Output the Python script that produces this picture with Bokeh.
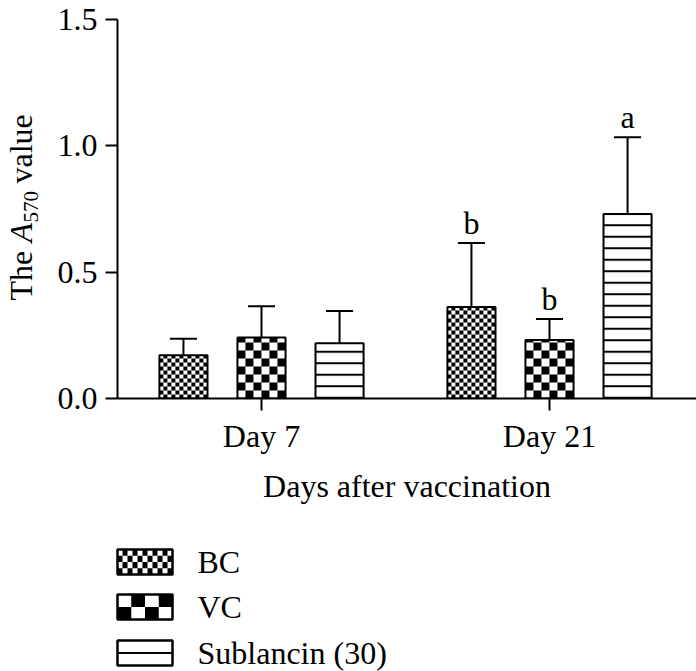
import numpy as np
from bokeh.plotting import figure
from bokeh.layouts import column, row
from bokeh.models import ColumnDataSource, Range1d, FixedTicker, PrintfTickFormatter
from bokeh.core.properties import value
from bokeh.embed import file_html
from bokeh.resources import INLINE

# ---------------- data ----------------
days = ["Day 7", "Day 21"]
groups = ["BC", "VC", "Sublancin (30)"]
bc_mean = [0.171, 0.362]
bc_sd = [0.065, 0.253]
vc_mean = [0.241, 0.232]
vc_sd = [0.124, 0.083]
sub_mean = [0.219, 0.730]
sub_sd = [0.127, 0.304]
bc_sig = ["", "b"]
vc_sig = ["", "b"]
sub_sig = ["", "a"]
y_ticks = [0.0, 0.5, 1.0, 1.5]

# ---------------- style ----------------
FONT = "Liberation Serif"
FS = "32px"
day_pos = [0, 1]
offsets = [-0.271, 0.0, 0.271]
bar_w = 0.167
cap_half = 0.047
X0, X1 = -0.5, 1.5104
Y0, Y1 = 0.0, 1.5
TOP_H = 520
FRAME_TOP = 19
FRAME_W, FRAME_H = 579, 379
BOTTOM_B = TOP_H - FRAME_TOP - FRAME_H
PX_X = FRAME_W / (X1 - X0)
PX_Y = FRAME_H / (Y1 - Y0)


def checker(left, right, bottom, top, cw, ch):
    """black cells of a checkerboard filling [left,right]x[bottom,top]"""
    L, R, B, T = [], [], [], []
    ncol = int(np.ceil((right - left) / cw - 1e-9))
    nrow = int(np.ceil((top - bottom) / ch - 1e-9))
    for r in range(nrow):
        for c in range(ncol):
            if (r + c) % 2 == 1:
                L.append(left + c * cw)
                R.append(min(left + (c + 1) * cw, right))
                B.append(bottom + r * ch)
                T.append(min(bottom + (r + 1) * ch, top))
    return dict(left=L, right=R, bottom=B, top=T)


# ---------------- main plot ----------------
p = figure(width=651, height=TOP_H, output_backend="svg", toolbar_location=None,
           x_range=Range1d(X0, X1), y_range=Range1d(Y0, Y1),
           min_border_left=72, min_border_right=0, min_border_top=FRAME_TOP,
           min_border_bottom=BOTTOM_B)
p.outline_line_color = None
p.xgrid.visible = False
p.ygrid.visible = False

cells_px = [4, 8, None]
series = [(bc_mean, bc_sd, bc_sig), (vc_mean, vc_sd, vc_sig), (sub_mean, sub_sd, sub_sig)]

for i, (m, sd, sig) in enumerate(series):
    xs = [d + offsets[i] for d in day_pos]
    upper = [mm + s for mm, s in zip(m, sd)]
    src = ColumnDataSource(dict(x=xs, top=m, upper=upper, sig=sig,
                                x0=[x - cap_half for x in xs], x1=[x + cap_half for x in xs]))
    p.segment(x0="x", y0="top", x1="x", y1="upper", source=src, line_color="black", line_width=2)
    p.segment(x0="x0", y0="upper", x1="x1", y1="upper", source=src, line_color="black", line_width=2)
    if cells_px[i] is None:
        p.vbar(x="x", top="top", bottom=0, width=bar_w, source=src,
               fill_color="white", line_color="black", line_width=2,
               hatch_pattern="horizontal_line", hatch_scale=11.5, hatch_weight=2,
               hatch_color="black")
    else:
        cw = cells_px[i] / PX_X
        ch = cells_px[i] / PX_Y
        for x, t in zip(xs, m):
            cs = checker(x - bar_w / 2, x + bar_w / 2, 0, t, cw, ch)
            p.quad(source=ColumnDataSource(cs), left="left", right="right",
                   bottom="bottom", top="top", fill_color="black", line_color=None)
        p.vbar(x="x", top="top", bottom=0, width=bar_w, source=src,
               fill_color=None, line_color="black", line_width=2)
    p.text(x="x", y="upper", text="sig", source=src, text_font=value(FONT),
           text_font_size=FS, text_align="center", text_baseline="alphabetic",
           y_offset=-20, text_color="black")

for ax in (p.xaxis[0], p.yaxis[0]):
    ax.axis_line_width = 2
    ax.axis_line_color = "black"
    ax.major_tick_line_width = 2
    ax.major_tick_line_color = "black"
    ax.major_tick_out = 12
    ax.major_tick_in = 0
    ax.minor_tick_line_color = None
    ax.major_label_text_font = FONT
    ax.major_label_text_font_size = FS
    ax.major_label_text_color = "black"
    ax.axis_label_text_font = FONT
    ax.axis_label_text_font_size = FS
    ax.axis_label_text_font_style = "normal"
    ax.axis_label_text_color = "black"

p.xaxis.ticker = FixedTicker(ticks=day_pos)
p.xaxis.major_label_overrides = {d: lab for d, lab in zip(day_pos, days)}
p.xaxis.major_label_standoff = 7
p.xaxis.axis_label = "Days after vaccination"
p.xaxis.axis_label_standoff = 11

p.yaxis.ticker = FixedTicker(ticks=y_ticks)
p.yaxis.formatter = PrintfTickFormatter(format="%.1f")
p.yaxis.major_label_standoff = 8

# ---------------- y-axis title (separate strip, frame aligned with the plot) ----------------
yl = figure(width=45, height=TOP_H, output_backend="svg", toolbar_location=None,
            x_range=Range1d(0, 45), y_range=Range1d(FRAME_TOP + FRAME_H, FRAME_TOP),
            min_border_left=0, min_border_right=0, min_border_top=FRAME_TOP,
            min_border_bottom=BOTTOM_B, x_axis_location=None, y_axis_location=None)
yl.outline_line_color = None
yl.xgrid.visible = False
yl.ygrid.visible = False
parts = ["The", "A", "570", "value"]
part_style = ["normal", "italic", "normal", "normal"]
part_size = [32, 32, 21, 32]
part_dx = [0, 0, 6, 0]
part_w = [50 + 8, 20, 31 + 8, 69]
total = sum(part_w)
start = 207 + total / 2
ys = list(start - np.cumsum([0] + part_w[:-1]))
for txt, st, fs, dx, yv in zip(parts, part_style, part_size, part_dx, ys):
    yl.text(x=[33 + dx - 0.4 * fs], y=[yv], text=[txt], angle=np.pi / 2, text_align="left",
            text_baseline="alphabetic", text_font=value(FONT), text_font_style=st,
            text_font_size=f"{fs}px", text_color="black")

# ---------------- legend (separate strip) ----------------
LEG_H = 671 - TOP_H
lg = figure(width=696, height=LEG_H, output_backend="svg", toolbar_location=None,
            x_range=Range1d(0, 696), y_range=Range1d(LEG_H, 0),
            min_border=0, x_axis_location=None, y_axis_location=None)
lg.outline_line_color = None
lg.xgrid.visible = False
lg.ygrid.visible = False
box_l, box_r = 117, 172
box_tops = [29, 74, 120]
box_h = 25
sw_cells = [(5, 6.25), (13.75, 12.5), None]
for g, bt, cell in zip(groups, box_tops, sw_cells):
    bb = bt + box_h
    if cell is not None:
        cs = checker(box_l, box_r, bt, bb, cell[0], cell[1])
        lg.quad(source=ColumnDataSource(cs), left="left", right="right",
                bottom="bottom", top="top", fill_color="black", line_color=None)
    else:
        lg.segment(x0=[box_l], y0=[(bt + bb) / 2], x1=[box_r], y1=[(bt + bb) / 2],
                   line_color="black", line_width=2)
    lg.quad(left=[box_l], right=[box_r], top=[bt], bottom=[bb], fill_color=None,
            line_color="black", line_width=2.5)
    lg.text(x=[197], y=[(bt + bb) / 2], text=[g], text_font=value(FONT),
            text_font_size=FS, text_baseline="middle", text_align="left",
            text_color="black")

layout = column(row(yl, p), lg)
open("out.html", "w").write(file_html(layout, INLINE))
